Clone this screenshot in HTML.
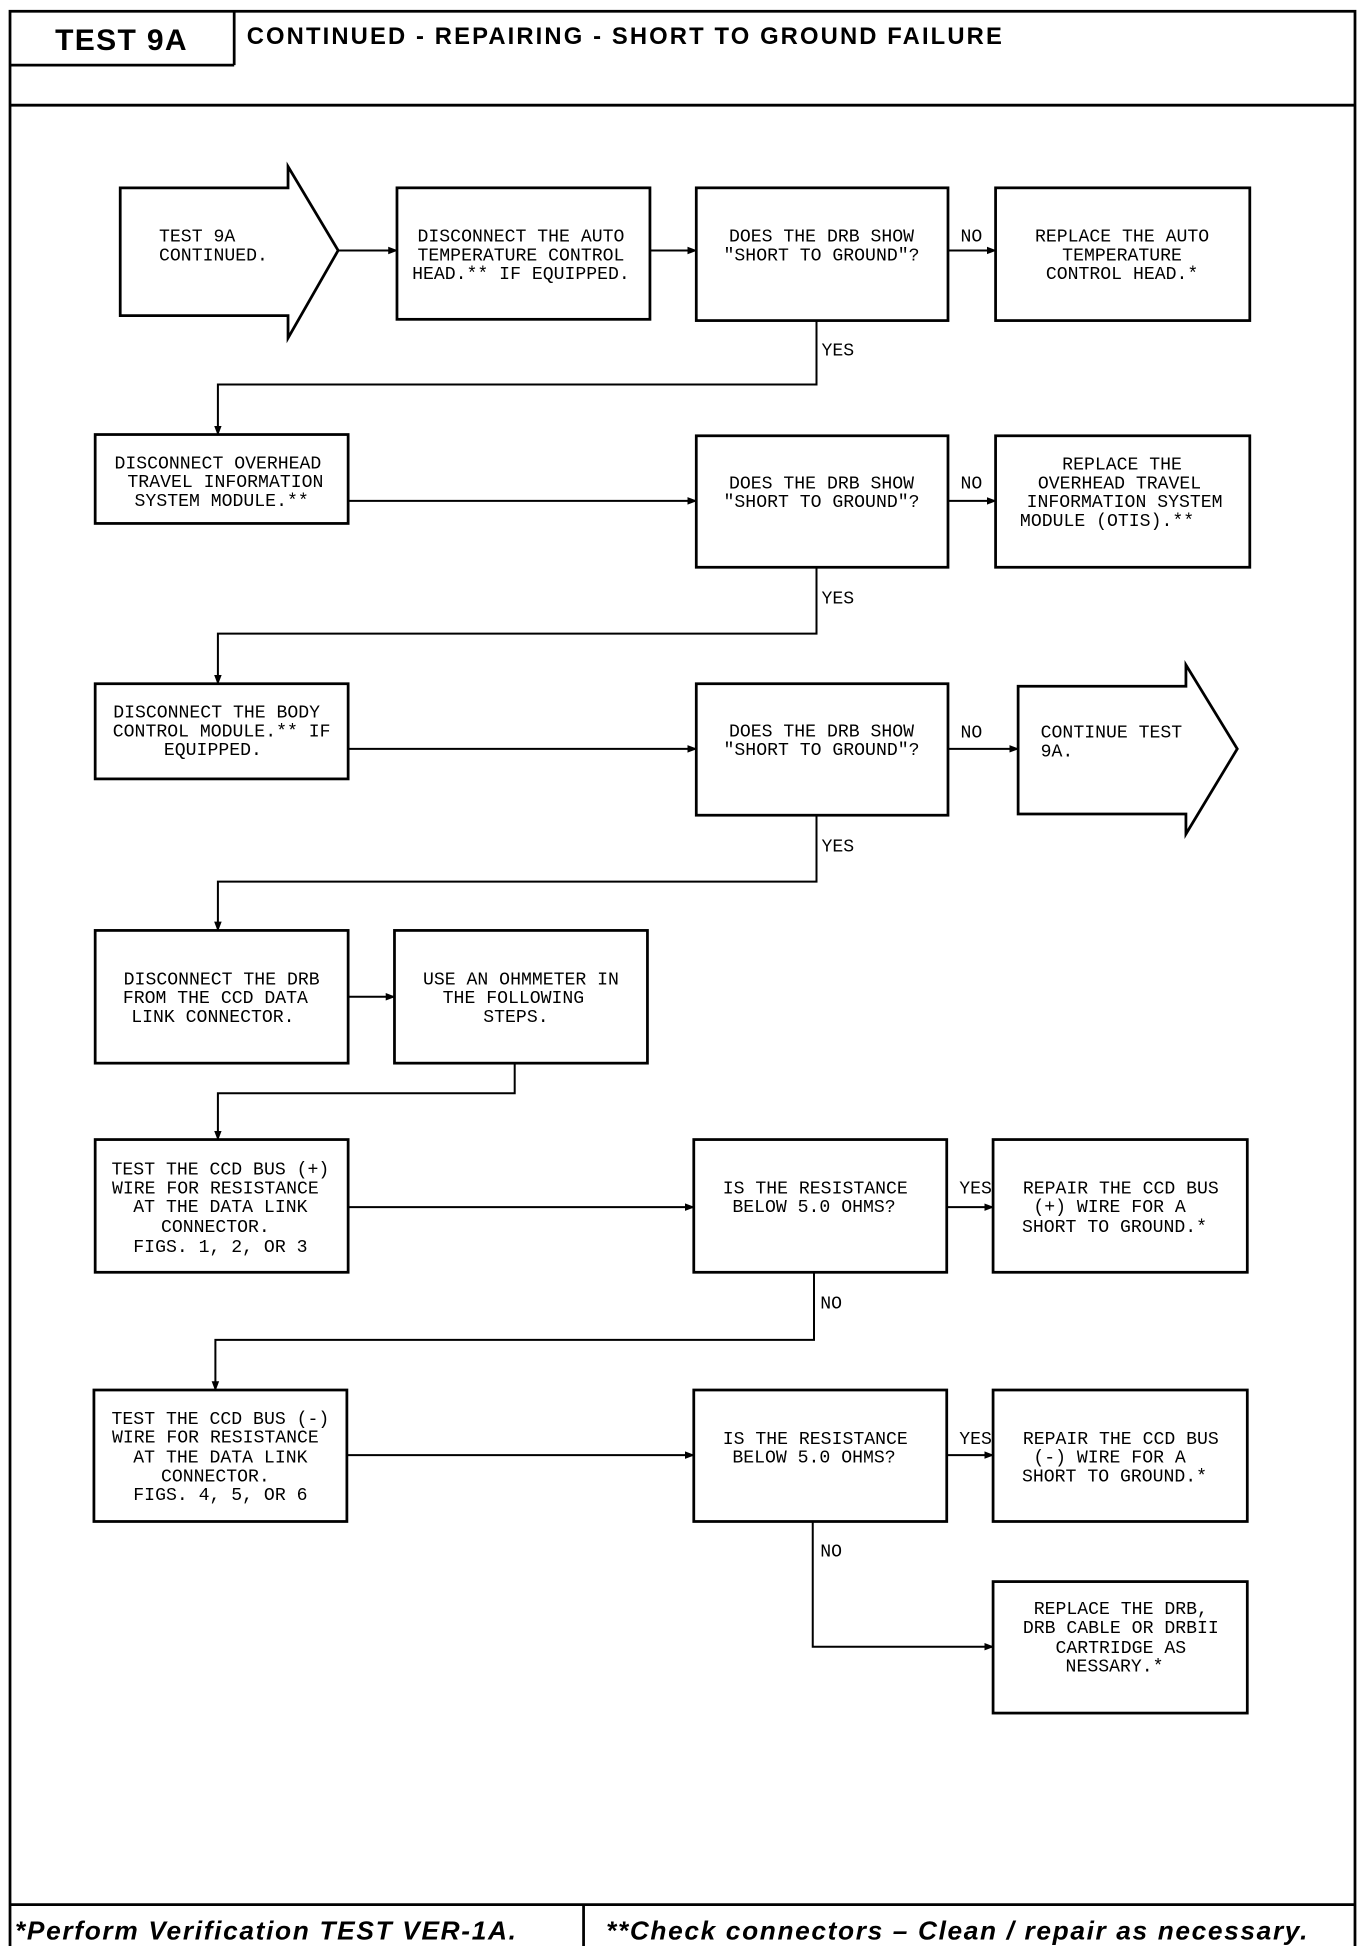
<!DOCTYPE html>
<html><head><meta charset="utf-8"><style>
html,body{margin:0;padding:0;background:#fff;}
svg{display:block;}
.t{font-family:"Liberation Mono",monospace;font-size:14.5px;fill:#000;text-anchor:middle;}
.l{font-family:"Liberation Mono",monospace;font-size:14.5px;fill:#000;}
</style></head><body>
<svg width="1360" height="1946" viewBox="0 0 1086 1554" preserveAspectRatio="none" xmlns="http://www.w3.org/2000/svg">
<defs><marker id="a" markerWidth="8" markerHeight="8" refX="7" refY="4" orient="auto" markerUnits="userSpaceOnUse"><path d="M0,1 L8,4 L0,7 Z" fill="#000"/></marker></defs>
<g fill="none" stroke="#000" stroke-width="2.2">
<rect x="8" y="9" width="1074" height="1548"/>
<line x1="8" y1="52" x2="187" y2="52"/><line x1="187" y1="9" x2="187" y2="52"/>
<line x1="8" y1="84" x2="1082" y2="84"/>
<line x1="8" y1="1521" x2="1082" y2="1521"/>
<line x1="466" y1="1521" x2="466" y2="1557"/>
<!-- row1 -->
<path d="M96,150 L230,150 L230,133 L270,200 L230,270 L230,252 L96,252 Z"/>
<rect x="317" y="150" width="202" height="105"/>
<rect x="556" y="150" width="201" height="106"/>
<rect x="795" y="150" width="203" height="106"/>
<!-- row2 -->
<rect x="76" y="347" width="202" height="71"/>
<rect x="556" y="348" width="201" height="105"/>
<rect x="795" y="348" width="203" height="105"/>
<!-- row3 -->
<rect x="76" y="546" width="202" height="76"/>
<rect x="556" y="546" width="201" height="105"/>
<path d="M813,548 L947,548 L947,531 L988,598 L947,666 L947,650 L813,650 Z"/>
<!-- row4 -->
<rect x="76" y="743" width="202" height="106"/>
<rect x="315" y="743" width="202" height="106"/>
<!-- row5 -->
<rect x="76" y="910" width="202" height="106"/>
<rect x="554" y="910" width="202" height="106"/>
<rect x="793" y="910" width="203" height="106"/>
<!-- row6 -->
<rect x="75" y="1110" width="202" height="105"/>
<rect x="554" y="1110" width="202" height="105"/>
<rect x="793" y="1110" width="203" height="105"/>
<rect x="793" y="1263" width="203" height="105"/>
</g>
<g fill="none" stroke="#000" stroke-width="1.6" marker-end="url(#a)">
<line x1="270" y1="200" x2="317" y2="200"/>
<line x1="519" y1="200" x2="556" y2="200"/>
<line x1="757" y1="200" x2="795" y2="200"/>
<polyline points="652,256 652,307 174,307 174,347"/>
<line x1="278" y1="400" x2="556" y2="400"/>
<line x1="757" y1="400" x2="795" y2="400"/>
<polyline points="652,453 652,506 174,506 174,546"/>
<line x1="278" y1="598" x2="556" y2="598"/>
<line x1="757" y1="598" x2="813" y2="598"/>
<polyline points="652,651 652,704 174,704 174,743"/>
<line x1="278" y1="796" x2="315" y2="796"/>
<polyline points="411,849 411,873 174,873 174,910"/>
<line x1="278" y1="964" x2="554" y2="964"/>
<line x1="756" y1="964" x2="793" y2="964"/>
<polyline points="650,1016 650,1070 172,1070 172,1110"/>
<line x1="277" y1="1162" x2="554" y2="1162"/>
<line x1="756" y1="1162" x2="793" y2="1162"/>
<polyline points="649,1215 649,1315 793,1315"/>
</g>
<text x="44" y="40" style="font-family:'Liberation Sans',sans-serif;font-weight:bold;font-size:24px" textLength="105">TEST 9A</text>
<text x="197" y="35" style="font-family:'Liberation Sans',sans-serif;font-weight:bold;font-size:19px" textLength="603">CONTINUED -  REPAIRING - SHORT TO GROUND FAILURE</text>
<text x="12" y="1549" style="font-family:'Liberation Sans',sans-serif;font-weight:bold;font-style:italic;font-size:21px" textLength="400">*Perform Verification TEST VER-1A.</text>
<text x="484" y="1549" style="font-family:'Liberation Sans',sans-serif;font-weight:bold;font-style:italic;font-size:21px" textLength="560">**Check connectors – Clean / repair as necessary.</text>

<text class="l" x="127" y="193">TEST 9A</text>
<text class="l" x="127" y="208">CONTINUED.</text>
<text class="t" x="416" y="193">DISCONNECT THE AUTO</text>
<text class="t" x="416" y="208">TEMPERATURE CONTROL</text>
<text class="t" x="416" y="223">HEAD.** IF EQUIPPED.</text>
<text class="t" x="656" y="193">DOES THE DRB SHOW</text>
<text class="t" x="656" y="208">"SHORT TO GROUND"?</text>
<text class="l" x="767" y="193">NO</text>
<text class="t" x="896" y="193">REPLACE THE AUTO</text>
<text class="t" x="896" y="208">TEMPERATURE</text>
<text class="t" x="896" y="223">CONTROL HEAD.*</text>
<text class="l" x="656" y="284">YES</text>

<text class="t" x="174" y="374">DISCONNECT OVERHEAD</text>
<text class="t" x="180" y="389">TRAVEL INFORMATION</text>
<text class="t" x="177" y="404">SYSTEM MODULE.**</text>
<text class="t" x="656" y="390">DOES THE DRB SHOW</text>
<text class="t" x="656" y="405">"SHORT TO GROUND"?</text>
<text class="l" x="767" y="390">NO</text>
<text class="t" x="896" y="375">REPLACE THE</text>
<text class="t" x="894" y="390">OVERHEAD TRAVEL</text>
<text class="t" x="898" y="405">INFORMATION SYSTEM</text>
<text class="t" x="884" y="420">MODULE (OTIS).**</text>
<text class="l" x="656" y="482">YES</text>

<text class="t" x="173" y="573">DISCONNECT THE BODY</text>
<text class="t" x="177" y="588">CONTROL MODULE.** IF</text>
<text class="t" x="170" y="603">EQUIPPED.</text>
<text class="t" x="656" y="588">DOES THE DRB SHOW</text>
<text class="t" x="656" y="603">"SHORT TO GROUND"?</text>
<text class="l" x="767" y="589">NO</text>
<text class="l" x="831" y="589">CONTINUE TEST</text>
<text class="l" x="831" y="604">9A.</text>
<text class="l" x="656" y="680">YES</text>

<text class="t" x="177" y="786">DISCONNECT THE DRB</text>
<text class="t" x="172" y="801">FROM THE CCD DATA</text>
<text class="t" x="170" y="816">LINK CONNECTOR.</text>
<text class="t" x="416" y="786">USE AN OHMMETER IN</text>
<text class="t" x="410" y="801">THE FOLLOWING</text>
<text class="t" x="412" y="816">STEPS.</text>

<text class="t" x="176" y="938">TEST THE CCD BUS (+)</text>
<text class="t" x="172" y="953">WIRE FOR RESISTANCE</text>
<text class="t" x="176" y="968">AT THE DATA LINK</text>
<text class="t" x="172" y="984">CONNECTOR.</text>
<text class="t" x="176" y="1000">FIGS. 1, 2, OR 3</text>
<text class="t" x="651" y="953">IS THE RESISTANCE</text>
<text class="t" x="650" y="968">BELOW 5.0 OHMS?</text>
<text class="l" x="766" y="953">YES</text>
<text class="t" x="895" y="953">REPAIR THE CCD BUS</text>
<text class="t" x="886" y="968">(+) WIRE FOR A</text>
<text class="t" x="890" y="984">SHORT TO GROUND.*</text>
<text class="l" x="655" y="1045">NO</text>

<text class="t" x="176" y="1137">TEST THE CCD BUS (-)</text>
<text class="t" x="172" y="1152">WIRE FOR RESISTANCE</text>
<text class="t" x="176" y="1168">AT THE DATA LINK</text>
<text class="t" x="172" y="1183">CONNECTOR.</text>
<text class="t" x="176" y="1198">FIGS. 4, 5, OR 6</text>
<text class="t" x="651" y="1153">IS THE RESISTANCE</text>
<text class="t" x="650" y="1168">BELOW 5.0 OHMS?</text>
<text class="l" x="766" y="1153">YES</text>
<text class="t" x="895" y="1153">REPAIR THE CCD BUS</text>
<text class="t" x="886" y="1168">(-) WIRE FOR A</text>
<text class="t" x="890" y="1183">SHORT TO GROUND.*</text>
<text class="l" x="655" y="1243">NO</text>

<text class="t" x="895" y="1289">REPLACE THE DRB,</text>
<text class="t" x="895" y="1304">DRB CABLE OR DRBII</text>
<text class="t" x="895" y="1320">CARTRIDGE AS</text>
<text class="t" x="890" y="1335">NESSARY.*</text>
</svg>
</body></html>
